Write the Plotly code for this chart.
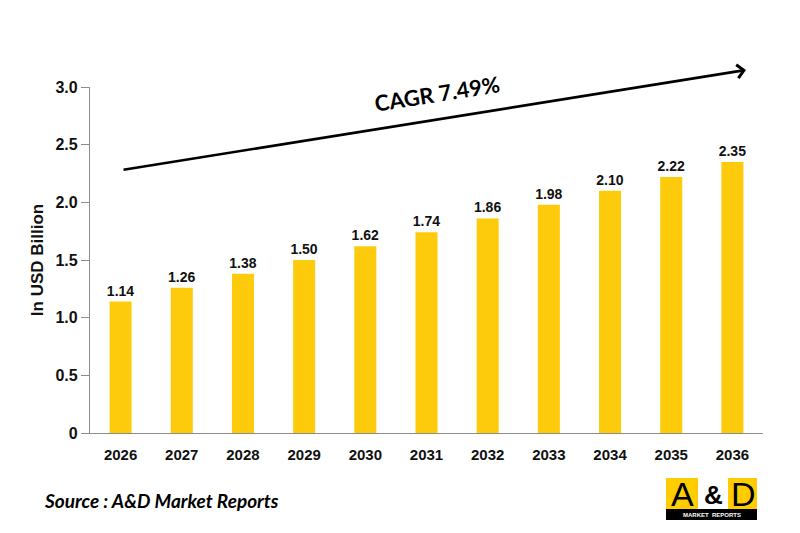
import plotly.graph_objects as go

years = ["2026", "2027", "2028", "2029", "2030", "2031", "2032", "2033", "2034", "2035", "2036"]
values = [1.14, 1.26, 1.38, 1.50, 1.62, 1.74, 1.86, 1.98, 2.10, 2.22, 2.35]
value_labels = ["1.14", "1.26", "1.38", "1.50", "1.62", "1.74", "1.86", "1.98", "2.10", "2.22", "2.35"]
ytick_vals = [0, 0.5, 1.0, 1.5, 2.0, 2.5, 3.0]
ytick_text = ["0", "0.5", "1.0", "1.5", "2.0", "2.5", "3.0"]

W, H = 800, 533
L, R, T, B = 90, 37, 87, 100
PW, PH = W - L - R, H - T - B

def px(x):
    return (x - L) / PW

def py(y):
    return (H - B - y) / PH

BAR = "#FDCB0B"
FONT = "Liberation Sans, Arial"

fig = go.Figure()
fig.add_trace(go.Bar(
    x=years, y=values, width=0.36, marker=dict(color=BAR, line=dict(width=0)),
    text=value_labels, textposition="outside", cliponaxis=False, constraintext="none",
    textfont=dict(family=FONT, size=14, color="#111111", weight="bold"),
))

shapes = [
    dict(type="rect", xref="paper", yref="paper", x0=px(666), x1=px(698), y0=py(510), y1=py(478),
         fillcolor="#FFCC00", line=dict(width=0)),
    dict(type="rect", xref="paper", yref="paper", x0=px(698), x1=px(728), y0=py(510), y1=py(478),
         fillcolor="#FFFFFF", line=dict(width=0)),
    dict(type="rect", xref="paper", yref="paper", x0=px(728), x1=px(757), y0=py(510), y1=py(478),
         fillcolor="#FFCC00", line=dict(width=0)),
    dict(type="rect", xref="paper", yref="paper", x0=px(666), x1=px(757), y0=py(520), y1=py(509),
         fillcolor="#000000", line=dict(width=0)),
]

def txt(x, y, s, size, color="#000000", family=FONT, **kw):
    return dict(xref="paper", yref="paper", x=px(x), y=py(y), text=s, showarrow=False,
                xanchor=kw.pop("xanchor", "center"), yanchor=kw.pop("yanchor", "middle"),
                font=dict(family=family, size=size, color=color, **kw.pop("font", {})), **kw)

annotations = [
    dict(xref="x domain", yref="y domain", x=px(746), y=py(70), ax=px(122), ay=py(170),
         axref="x domain", ayref="y domain", showarrow=True, arrowhead=4, arrowsize=1.0,
         arrowwidth=2.6, arrowcolor="#000000", text=""),
    txt(437, 94, "<b>CAGR 7.49%</b>", 22, family="Lato, Open Sans", textangle=-9),
    txt(42, 500, "Source : A&D Market Reports", 19, family="Lato, Open Sans", xanchor="left",
        font=dict(weight="bold", style="italic")),
    txt(682, 494, "A", 34),
    txt(713, 495, "<b>&</b>", 26),
    txt(743, 494, "D", 34),
    txt(711.5, 514.5, "<b>MARKET  REPORTS</b>", 6, color="#FFFFFF"),
]

fig.update_layout(
    width=W, height=H, margin=dict(l=L, r=R, t=T, b=B),
    paper_bgcolor="white", plot_bgcolor="white", showlegend=False,
    shapes=shapes, annotations=annotations,
    xaxis=dict(type="category", range=[-0.5, 10.5], showline=True, linecolor="#8C8C8C", linewidth=1.2,
               showgrid=False, ticks="outside", ticklen=8, tickcolor="rgba(0,0,0,0)",
               tickfont=dict(family=FONT, size=15, color="#111111", weight="bold")),
    yaxis=dict(range=[0, 3.0], tickvals=ytick_vals, ticktext=ytick_text, showline=True, linecolor="#8C8C8C",
               linewidth=1.2, ticks="outside", ticklen=8, tickcolor="#8C8C8C", showgrid=False, zeroline=False,
               tickfont=dict(family=FONT, size=16, color="#111111", weight="bold"),
               title=dict(text="In USD Billion", standoff=7,
                          font=dict(family=FONT, size=17, color="#111111", weight="bold"))),
)

fig.write_html("out.html")
